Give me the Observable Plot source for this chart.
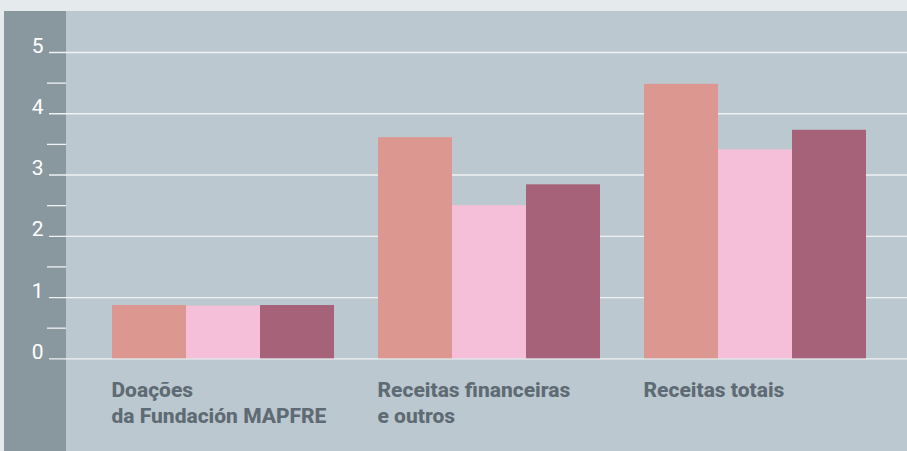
<!DOCTYPE html>
<html>
<head>
<meta charset="utf-8">
<script src="https://cdn.jsdelivr.net/npm/d3@7"></script>
<script src="https://cdn.jsdelivr.net/npm/@observablehq/plot@0.6"></script>
<style>
  html, body { margin: 0; padding: 0; background: #e5eaed; }
  #wrap { position: relative; width: 907px; height: 451px; overflow: hidden; background: #e5eaed; }
  #panel { position: absolute; left: 4px; top: 11px; right: 0; bottom: 0; background: #bcc8cf; }
  #dark { position: absolute; left: 4px; top: 11px; width: 62px; bottom: 0; background: #89979f; }
  .layer { position: absolute; left: 0; top: 0; }
  .layer svg { background: transparent !important; }
</style>
</head>
<body>
<div id="wrap">
  <div id="panel"></div>
  <div id="dark"></div>
  <div id="axisLayer" class="layer"></div>
  <div id="barLayer" class="layer"></div>
</div>
<script>
// ---- data ----
const groups = ["Doações\nda Fundación MAPFRE", "Receitas financeiras\ne outros", "Receitas totais"];
const seriesNames = ["Série 1", "Série 2", "Série 3"];
const series1 = [0.87, 3.61, 4.48];
const series2 = [0.86, 2.50, 3.41];
const series3 = [0.87, 2.84, 3.73];
const colors = ["#db9790", "#f6bfd9", "#a66278"];
const yTicks = [0, 1, 2, 3, 4, 5];
const yMinorTicks = [0.5, 1.5, 2.5, 3.5, 4.5];

const rows = [];
[series1, series2, series3].forEach((vals, si) => {
  vals.forEach((v, gi) => rows.push({group: groups[gi], series: seriesNames[si], value: v}));
});

const W = 907, H = 451, MT = 52, MB = 92.7;

// ---- axis / grid layer ----
const axisPlot = Plot.plot({
  width: W, height: H,
  marginLeft: 49, marginRight: 0, marginTop: MT, marginBottom: MB,
  style: {background: "transparent"},
  y: {domain: [0, 5], axis: null},
  marks: [
    Plot.ruleY(yMinorTicks, {stroke: "#eef2f4", strokeWidth: 1.3, insetLeft: -2, insetRight: W - 66}),
    Plot.ruleY(yTicks, {stroke: "#eef2f4", strokeWidth: 1.3}),
    Plot.text(yTicks, {
      y: d => d, text: d => String(d), frameAnchor: "left",
      textAnchor: "end", lineAnchor: "bottom", dx: -6, dy: 0,
      fill: "#ffffff", fontSize: 21, fontWeight: 400, fontFamily: "Roboto"
    })
  ]
});
document.getElementById("axisLayer").appendChild(axisPlot);

// ---- bar layer ----
const barPlot = Plot.plot({
  width: W, height: H,
  marginLeft: 111, marginRight: 40, marginTop: MT, marginBottom: MB,
  style: {background: "transparent"},
  fx: {domain: groups, paddingInner: 0.158, paddingOuter: 0, axis: null},
  x: {domain: seriesNames, padding: 0, axis: null},
  y: {domain: [0, 5], axis: null},
  color: {domain: seriesNames, range: colors},
  facet: {data: rows, x: "group"},
  marks: [
    Plot.barY(rows, {x: "series", y: "value", fill: "series"}),
    Plot.text(rows, {
      filter: d => d.series === seriesNames[0],
      text: "group",
      frameAnchor: "bottom-left", textAnchor: "start", lineAnchor: "top",
      dy: 20, lineHeight: 1.24,
      fill: "#5e6b74", fontSize: 21, fontWeight: 800, fontFamily: "Roboto",
      letterSpacing: "-0.3px"
    })
  ]
});
document.getElementById("barLayer").appendChild(barPlot);
</script>
</body>
</html>
